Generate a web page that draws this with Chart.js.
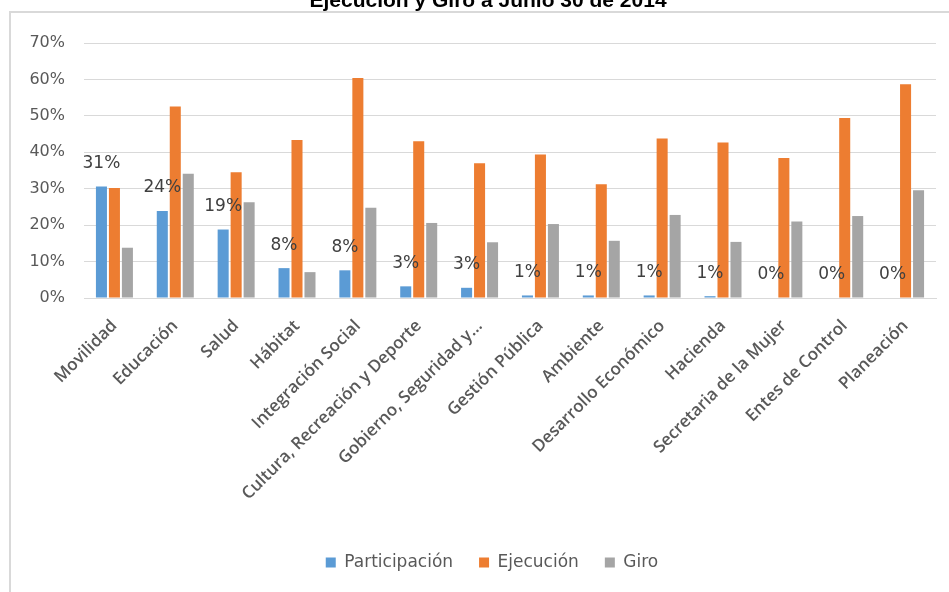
<!DOCTYPE html>
<html>
<head>
<meta charset="utf-8">
<script src="https://cdn.jsdelivr.net/npm/chart.js@4.4.1/dist/chart.umd.min.js"></script>
<style>
  html, body { margin: 0; padding: 0; background: #fff; }
  #wrap { width: 949px; height: 592px; position: relative; }
</style>
</head>
<body>
<div id="wrap"><canvas id="chart"></canvas></div>
<script>
const categories = [
  "Movilidad", "Educación", "Salud", "Hábitat", "Integración Social",
  "Cultura, Recreación y Deporte", "Gobierno, Seguridad y…", "Gestión Pública",
  "Ambiente", "Desarrollo Económico", "Hacienda", "Secretaria de la Mujer",
  "Entes de Control", "Planeación"
];
const participacion = [30.6, 23.9, 18.8, 8.2, 7.6, 3.2, 2.8, 0.7, 0.7, 0.7, 0.5, 0, 0, 0];
const ejecucion = [30.2, 52.6, 34.5, 43.4, 60.4, 43.0, 37.0, 39.4, 31.2, 43.8, 42.7, 38.4, 49.4, 58.7];
const giro = [13.8, 34.1, 26.3, 7.1, 24.8, 20.6, 15.3, 20.3, 15.7, 22.8, 15.4, 21.0, 22.5, 29.6];
const yTicks = [0, 10, 20, 30, 40, 50, 60, 70];
const chartTitle = "Ejecución y Giro a Junio 30 de 2014";

// border of the chart area and the cut-off title
const frame = {
  id: "frame",
  beforeDraw(chart) {
    const ctx = chart.ctx;
    ctx.save();
    ctx.fillStyle = "#000";
    ctx.font = "bold 21px 'Liberation Sans', Arial, sans-serif";
    ctx.textAlign = "center";
    ctx.textBaseline = "alphabetic";
    ctx.fillText(chartTitle, 488, 7);
    ctx.strokeStyle = "#d9d9d9";
    ctx.lineWidth = 2;
    ctx.fillStyle = "#fff";
    ctx.fillRect(10, 12, 960, 620);
    ctx.strokeRect(10, 12, 960, 620);
    ctx.restore();
  }
};

// legend sits a bit right of the canvas centre in the original
const legendShift = {
  id: "legendShift",
  afterLayout(chart) {
    if (chart.legend) chart.legend.left = 48;
  }
};

// percentage labels over the blue bars
const barLabels = {
  id: "barLabels",
  afterDatasetsDraw(chart) {
    const ctx = chart.ctx;
    const meta = chart.getDatasetMeta(0);
    ctx.save();
    ctx.fillStyle = "#404040";
    ctx.font = "17px 'DejaVu Sans', sans-serif";
    ctx.textAlign = "center";
    ctx.textBaseline = "middle";
    meta.data.forEach((bar, i) => {
      ctx.fillText(Math.round(participacion[i]) + "%", bar.x, bar.y - 23);
    });
    ctx.restore();
  }
};

new Chart(document.getElementById("chart"), {
  type: "bar",
  data: {
    labels: categories,
    datasets: [
      { label: "Participación", data: participacion, backgroundColor: "#5b9bd5" },
      { label: "Ejecución", data: ejecucion, backgroundColor: "#ed7d31" },
      { label: "Giro", data: giro, backgroundColor: "#a5a5a5" }
    ]
  },
  options: {
    responsive: true,
    maintainAspectRatio: false,
    animation: false,
    categoryPercentage: 0.64,
    barPercentage: 0.85,
    layout: { padding: { top: 43, right: 13, bottom: 11, left: 0 } },
    plugins: {
      legend: {
        position: "bottom",
        labels: {
          boxWidth: 10,
          boxHeight: 10,
          padding: 26,
          color: "#595959",
          font: { family: "'DejaVu Sans', sans-serif", size: 17 }
        }
      },
      tooltip: { enabled: false },
      title: { display: false }
    },
    scales: {
      x: {
        grid: { display: false, drawTicks: false },
        border: { color: "#d9d9d9" },
        ticks: {
          color: "#595959",
          maxRotation: 45,
          minRotation: 45,
          autoSkip: false,
          padding: 18,
          font: { family: "'Open Sans', sans-serif", size: 17, weight: 600 }
        },
        afterFit(scale) { scale.height = 230; }
      },
      y: {
        min: 0,
        max: 70,
        afterBuildTicks(scale) { scale.ticks = yTicks.map(v => ({ value: v })); },
        grid: { color: "#d9d9d9", drawTicks: false },
        border: { display: false },
        ticks: {
          color: "#595959",
          padding: 19,
          font: { family: "'DejaVu Sans', sans-serif", size: 16 },
          callback: v => v + "%"
        },
        afterFit(scale) { scale.width = 84; }
      }
    }
  },
  plugins: [frame, legendShift, barLabels]
});
</script>
</body>
</html>
